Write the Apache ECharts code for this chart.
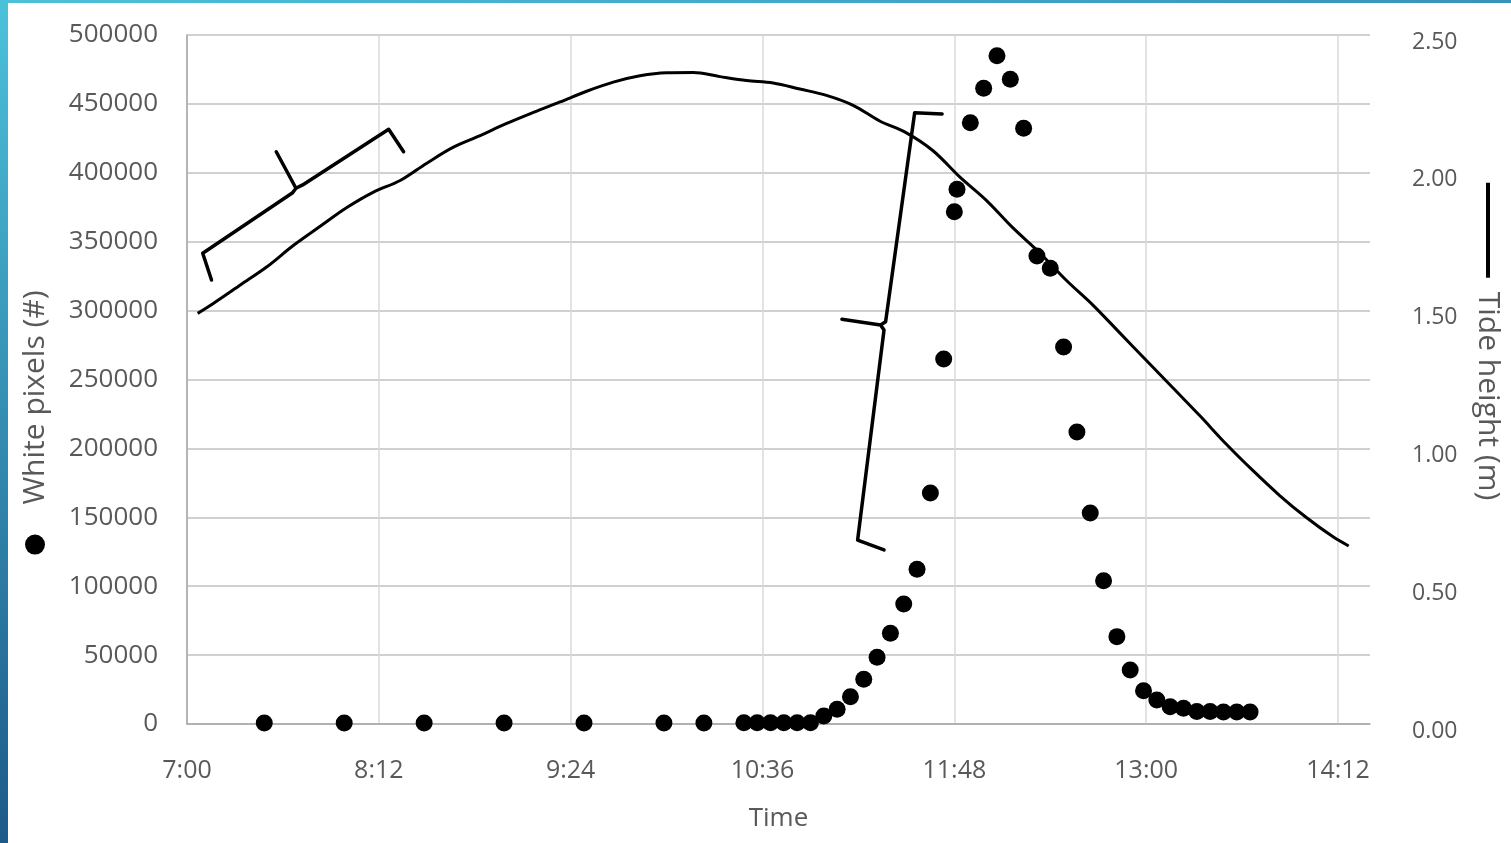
<!DOCTYPE html>
<html>
<head>
<meta charset="utf-8">
<script src="https://cdn.jsdelivr.net/npm/echarts@6/dist/echarts.min.js"></script>
<style>
  html, body { margin: 0; padding: 0; background: #ffffff; }
  #chart { width: 1511px; height: 843px; }
</style>
</head>
<body>
<div id="chart"></div>
<script>
// Time axis labels (every 72 minutes from 7:00)
const timeTickLabels = ['7:00', '8:12', '9:24', '10:36', '11:48', '13:00', '14:12'];

// White pixel counts per image
const pixelTimes = [
  '7:29', '7:59', '8:29', '8:59', '9:29', '9:59', '10:14',
  '10:29', '10:34', '10:39', '10:44', '10:49', '10:54', '10:59',
  '11:04', '11:09', '11:14', '11:19', '11:24', '11:29', '11:34',
  '11:39', '11:44', '11:48', '11:49', '11:54', '11:59', '12:04',
  '12:09', '12:14', '12:19', '12:24', '12:29', '12:34', '12:39',
  '12:44', '12:49', '12:54', '12:59', '13:04', '13:09', '13:14',
  '13:19', '13:24', '13:29', '13:34', '13:39'
];
const whitePixels = [
  800, 800, 800, 800, 800, 800, 800,
  900, 900, 900, 900, 900, 900, 5800,
  10700, 19800, 32400, 48400, 65800, 87100, 112300,
  167600, 264900, 371800, 388000, 436400, 461300, 485000,
  467900, 432300, 339600, 330700, 273600, 211900, 153100,
  104000, 63400, 39200, 24200, 17400, 12600, 11400,
  9000, 9000, 8700, 8700, 8700
];

// Tide height (m)
const tideTimes = [
  '7:04', '7:10', '7:20', '7:30', '7:40', '7:50', '8:00', '8:10', '8:20', '8:30',
  '8:40', '8:50', '9:00', '9:10', '9:20', '9:30', '9:40', '9:50', '10:00', '10:10',
  '10:20', '10:30', '10:40', '10:50', '11:00', '11:10', '11:20', '11:30', '11:40', '11:50',
  '12:00', '12:10', '12:20', '12:30', '12:40', '12:50', '13:00', '13:10', '13:20', '13:30',
  '13:40', '13:50', '14:00', '14:10', '14:16'
];
const tideHeights = [
  1.49, 1.527, 1.593, 1.659, 1.737, 1.806, 1.874, 1.930, 1.972, 2.035,
  2.093, 2.135, 2.179, 2.219, 2.257, 2.296, 2.329, 2.352, 2.363, 2.364,
  2.349, 2.335, 2.326, 2.304, 2.281, 2.245, 2.188, 2.145, 2.080, 1.985,
  1.900, 1.800, 1.710, 1.610, 1.520, 1.420, 1.320, 1.220, 1.120, 1.016,
  0.920, 0.830, 0.750, 0.680, 0.646
];

// Hand-drawn brackets: [time, white pixels] vertices
const braceEarly = [
  ['7:09.2', 322200], ['7:05.9', 341600], ['7:39.5', 385300], ['7:40.9', 388800],
  ['7:33.5', 415300], ['7:40.9', 388800], ['7:43.4', 391200], ['8:15.7', 431600],
  ['8:21.3', 415300]
];
const braceSurge = [
  ['11:43.4', 442700], ['11:33.1', 443600], ['11:22.2', 291900], ['11:20.3', 289600],
  ['11:05.8', 293700], ['11:20.3', 289600], ['11:21.6', 285900], ['11:11.7', 133500],
  ['11:21.6', 126300]
];

// minutes after 7:00
function toX(t) {
  const parts = t.split(':');
  return parseInt(parts[0], 10) * 60 + parseFloat(parts[1]) - 420;
}

const TEXT = '#595959';
const FONT = 'Open Sans';

const chart = echarts.init(document.getElementById('chart'), null, { renderer: 'canvas' });

chart.setOption({
  backgroundColor: '#ffffff',
  animation: false,
  textStyle: { fontFamily: FONT, color: TEXT },
  graphic: [
    {
      type: 'rect', left: 0, top: 0, z: 100,
      shape: { width: 8, height: 843 },
      style: {
        fill: new echarts.graphic.LinearGradient(0, 0, 0, 1, [
          { offset: 0, color: '#4cc1da' }, { offset: 1, color: '#1d5a88' }
        ])
      }
    },
    {
      type: 'rect', left: 0, top: 0, z: 100,
      shape: { width: 1511, height: 3 },
      style: {
        fill: new echarts.graphic.LinearGradient(0, 0, 1, 0, [
          { offset: 0, color: '#4cc1da' }, { offset: 1, color: '#3893ba' }
        ])
      }
    }
  ],
  grid: { left: 187, right: 134, top: 35, bottom: 119, containLabel: false },
  xAxis: {
    type: 'value',
    min: 0,
    max: 444,
    interval: 72,
    name: 'Time',
    nameLocation: 'middle',
    nameGap: 82,
    nameTextStyle: { fontSize: 26, color: TEXT, fontFamily: FONT },
    axisLine: { show: true, lineStyle: { color: '#a6a6a6', width: 1.5 } },
    axisTick: { show: false },
    axisLabel: {
      margin: 34,
      fontSize: 25,
      color: TEXT,
      fontFamily: FONT,
      showMaxLabel: false,
      formatter: v => timeTickLabels[Math.round(v / 72)] || ''
    },
    splitLine: { show: true, showMaxLine: false, lineStyle: { color: '#dadada', width: 1.5 } }
  },
  yAxis: [
    {
      type: 'value',
      min: 0,
      max: 500000,
      interval: 50000,
      position: 'left',
      name: '{dot|}{gap|}White pixels (#){pad|}',
      nameLocation: 'middle',
      nameRotate: 90,
      nameGap: 137,
      nameTextStyle: {
        fontSize: 30, color: TEXT, fontFamily: FONT,
        rich: {
          dot: { width: 20, height: 20, borderRadius: 10, backgroundColor: '#000', verticalAlign: 'middle' },
          gap: { width: 30 },
          pad: { width: 86 }
        }
      },
      axisLine: { show: true, lineStyle: { color: '#a6a6a6', width: 1.5 } },
      axisTick: { show: false },
      axisLabel: {
        margin: 29, fontSize: 26, color: TEXT, fontFamily: FONT,
        formatter: v => String(v)
      },
      splitLine: { show: true, lineStyle: { color: '#c0c0c0', width: 1.5 } }
    },
    {
      type: 'value',
      min: 0,
      max: 2.5,
      interval: 0.5,
      position: 'right',
      name: '{bar|}{gap|}Tide height (m){pad|}',
      nameLocation: 'middle',
      nameRotate: -90,
      nameGap: 103,
      nameTextStyle: {
        fontSize: 30, color: TEXT, fontFamily: FONT,
        rich: {
          bar: { width: 95, height: 4, backgroundColor: '#000', verticalAlign: 'middle' },
          gap: { width: 14 },
          pad: { width: 76 }
        }
      },
      axisLine: { show: false },
      axisTick: { show: false },
      axisLabel: {
        margin: 42, color: TEXT, fontFamily: FONT,
        formatter: v => '{v|' + v.toFixed(2) + '}',
        rich: {
          v: { fontSize: 23, color: TEXT, fontFamily: FONT, padding: [14, 0, 0, 0] }
        }
      },
      splitLine: { show: false }
    }
  ],
  series: [
    {
      name: 'Tide height (m)',
      type: 'line',
      yAxisIndex: 1,
      data: tideTimes.map((t, i) => [toX(t), tideHeights[i]]),
      showSymbol: false,
      smooth: 0.35,
      lineStyle: { color: '#000', width: 3 },
      z: 3
    },
    {
      name: 'White pixels (#)',
      type: 'scatter',
      yAxisIndex: 0,
      data: pixelTimes.map((t, i) => [toX(t), whitePixels[i]]),
      symbol: 'circle',
      symbolSize: 17,
      itemStyle: { color: '#000', opacity: 1 },
      z: 4
    },
    {
      name: 'bracket-early',
      type: 'line',
      yAxisIndex: 0,
      data: braceEarly.map(p => [toX(p[0]), p[1]]),
      showSymbol: false,
      smooth: false,
      lineStyle: { color: '#000', width: 3.5, join: 'round', cap: 'round' },
      z: 5
    },
    {
      name: 'bracket-surge',
      type: 'line',
      yAxisIndex: 0,
      data: braceSurge.map(p => [toX(p[0]), p[1]]),
      showSymbol: false,
      smooth: false,
      lineStyle: { color: '#000', width: 3.5, join: 'round', cap: 'round' },
      z: 5
    }
  ]
});
</script>
</body>
</html>
